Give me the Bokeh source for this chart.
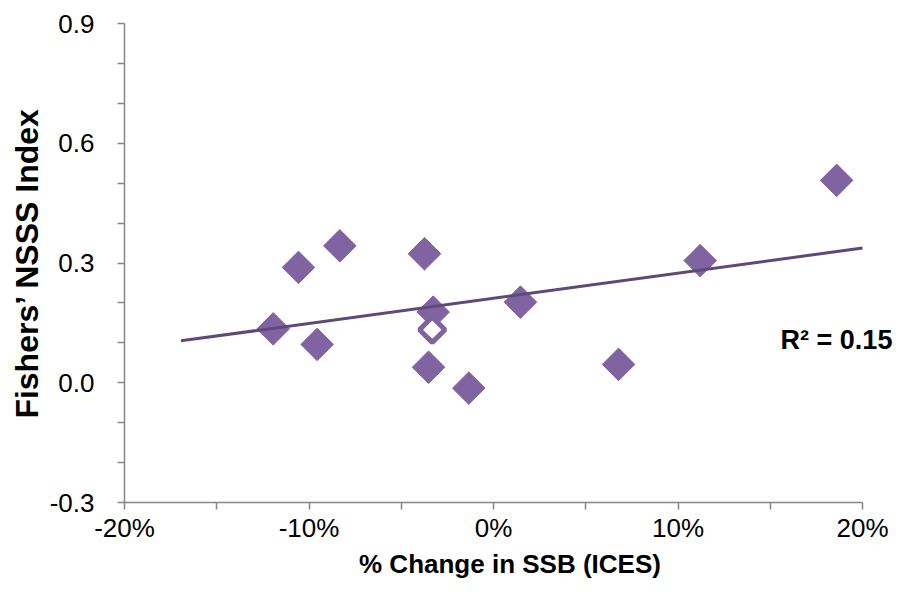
import numpy as np
from bokeh.plotting import figure
from bokeh.models import Range1d, FixedTicker, PrintfTickFormatter, Label, Title
from bokeh.embed import file_html
from bokeh.resources import INLINE

# % change in SSB (ICES) vs Fishers' NSSS Index
ssb_change = [-11.94, -10.57, -8.33, -9.56, -3.74, -3.27, -3.52, -1.34, 1.46, 6.78, 11.2, 18.6]
nsss_index = [0.135, 0.289, 0.343, 0.096, 0.323, 0.177, 0.039, -0.0135, 0.202, 0.046, 0.306, 0.507]
# hollow (excluded) point
hollow_ssb = [-3.32]
hollow_nsss = [0.133]

x_ticks = [-20, -10, 0, 10, 20]
x_minor = [-15, -5, 5, 15]
y_ticks = [-0.3, 0.0, 0.3, 0.6, 0.9]
y_minor = [-0.2, -0.1, 0.1, 0.2, 0.4, 0.5, 0.7, 0.8]
r2_label = "R\u00b2 = 0.15"
x_title = "% Change in SSB (ICES)"
y_title = "Fishers\u2019 NSSS Index"

FONT = "Liberation Sans"
PURPLE = "#8064A2"
LINE = "#5F497A"
GREY = "#868686"

W, H = 895, 584
LEFT, TOP, BOTTOM_FRAME = 124, 23, 502
px_per_unit = (862 - 124) / 40.0
x_end = -20 + (W - LEFT) / px_per_unit

p = figure(width=W, height=H, output_backend="svg", toolbar_location=None,
           x_range=Range1d(-20, x_end), y_range=Range1d(-0.3, 0.9),
           min_border_left=LEFT, min_border_right=0, min_border_top=TOP,
           min_border_bottom=H - BOTTOM_FRAME)
p.outline_line_color = None
p.grid.visible = False
p.background_fill_color = "white"

p.xaxis.ticker = FixedTicker(ticks=x_ticks, minor_ticks=x_minor)
p.yaxis.ticker = FixedTicker(ticks=y_ticks, minor_ticks=y_minor)
p.xaxis.formatter = PrintfTickFormatter(format="%d%%")
p.yaxis.formatter = PrintfTickFormatter(format="%.1f")
p.xaxis.bounds = (-20, 20)

for ax in (p.xaxis, p.yaxis):
    ax.axis_line_color = GREY
    ax.axis_line_width = 1.5
    ax.major_tick_line_color = GREY
    ax.minor_tick_line_color = GREY
    ax.major_tick_line_width = 1.5
    ax.minor_tick_line_width = 1.5
    ax.major_tick_in = 0
    ax.major_tick_out = 7
    ax.minor_tick_in = 0
    ax.minor_tick_out = 7
    ax.major_label_text_font = FONT
    ax.major_label_text_font_size = "26px"
    ax.major_label_text_color = "black"
    ax.axis_label_text_font = FONT
    ax.axis_label_text_font_style = "bold"
    ax.axis_label_text_color = "black"

p.xaxis.axis_label = x_title
p.xaxis.axis_label_text_font_size = "26px"
p.xaxis.major_label_standoff = 3
p.xaxis.axis_label_standoff = 3
p.yaxis.major_label_standoff = 23

p.add_layout(Title(text=y_title, align="center", offset=-18, standoff=4,
                   text_font=FONT, text_font_style="bold", text_font_size="32px",
                   text_color="black"), "left")

# markers
p.scatter(ssb_change, nsss_index, marker="square", size=23, angle=np.pi / 4,
          fill_color=PURPLE, line_color=PURPLE, line_width=1)
p.scatter(hollow_ssb, hollow_nsss, marker="square", size=18, angle=np.pi / 4,
          fill_color="white", line_color=PURPLE, line_width=5)

# linear trendline (fit to filled points, backward forecast 5 units, to axis end)
slope, intercept = np.polyfit(ssb_change, nsss_index, 1)
tx = np.array([min(ssb_change) - 5, 20])
p.line(tx, slope * tx + intercept, line_color=LINE, line_width=3)

p.add_layout(Label(x=15.56, y=0.106, text=r2_label, text_font=FONT, text_font_style="bold",
                   text_font_size="27px", text_baseline="middle", text_align="left",
                   text_color="black"))

open("out.html", "w").write(file_html(p, INLINE))
